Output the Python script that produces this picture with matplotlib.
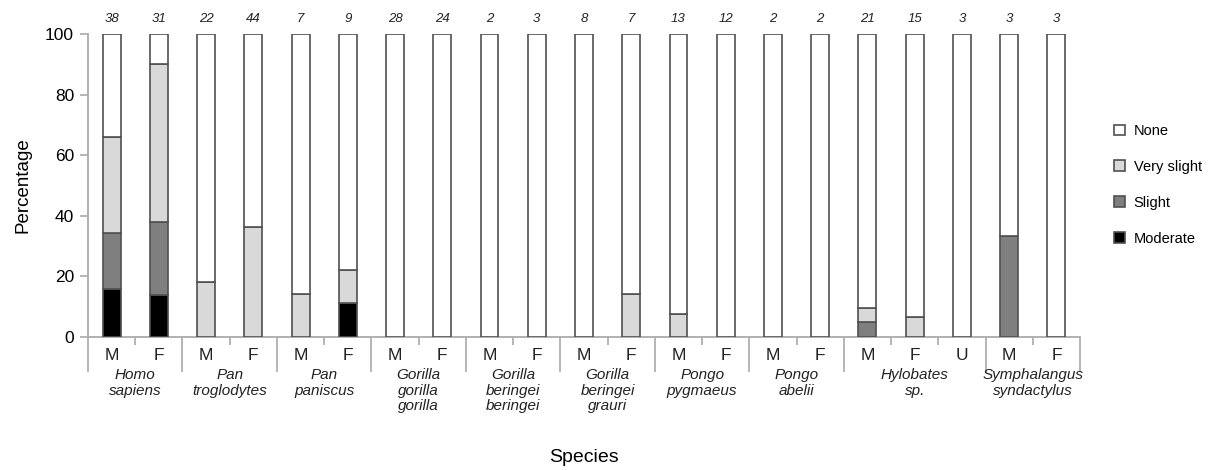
import matplotlib
matplotlib.use("Agg")
import matplotlib.pyplot as plt
import numpy as np
from matplotlib.patches import Patch
import matplotlib.transforms as mtransforms

plt.rcParams['font.family'] = ['Liberation Sans', 'DejaVu Sans']

# ---- data ----
species = ["Homo\nsapiens", "Pan\ntroglodytes", "Pan\npaniscus", "Gorilla\ngorilla\ngorilla",
           "Gorilla\nberingei\nberingei", "Gorilla\nberingei\ngrauri", "Pongo\npygmaeus",
           "Pongo\nabelii", "Hylobates\nsp.", "Symphalangus\nsyndactylus"]
sexes = [["M", "F"], ["M", "F"], ["M", "F"], ["M", "F"], ["M", "F"], ["M", "F"],
         ["M", "F"], ["M", "F"], ["M", "F", "U"], ["M", "F"]]
counts = [38, 31, 22, 44, 7, 9, 28, 24, 2, 3, 8, 7, 13, 12, 2, 2, 21, 15, 3, 3, 3]

moderate    = [15.8, 14.0, 0, 0, 0, 11.1, 0, 0, 0, 0, 0, 0, 0, 0, 0, 0, 0, 0, 0, 0, 0]
slight      = [18.5, 24.0, 0, 0, 0, 0, 0, 0, 0, 0, 0, 0, 0, 0, 0, 0, 4.8, 0, 0, 33.3, 0]
very_slight = [31.8, 52.0, 18.2, 36.4, 14.3, 11.1, 0, 0, 0, 0, 0, 14.3, 7.7, 0, 0, 0, 4.8, 6.7, 0, 0, 0]
none_ = [100 - a - b - c for a, b, c in zip(moderate, slight, very_slight)]

series = [("Moderate", moderate, "#000000"),
          ("Slight", slight, "#7f7f7f"),
          ("Very slight", very_slight, "#d9d9d9"),
          ("None", none_, "#ffffff")]

# ---- figure ----
fig = plt.figure(figsize=(12.14, 4.70), dpi=100)
ax = fig.add_axes([88/1214, 1 - 337/470, (1080 - 88)/1214, (337 - 34)/470])

n = len(counts)
x = np.arange(n)
bottom = np.zeros(n)
edge = "#505050"
for name, vals, col in series:
    v = np.array(vals, dtype=float)
    ax.bar(x, v, width=0.38, bottom=bottom, color=col, edgecolor=edge, linewidth=1.2, zorder=3)
    bottom += v

ax.set_xlim(-0.5, n - 0.5)
ax.set_ylim(0, 100)
ax.set_yticks([0, 20, 40, 60, 80, 100])
ax.tick_params(axis='y', labelsize=12.5, length=6, width=1.3, color="#b0b0b0", pad=4)

for s in ["top", "right"]:
    ax.spines[s].set_visible(False)
for s in ["left", "bottom"]:
    ax.spines[s].set_color("#b0b0b0")
    ax.spines[s].set_linewidth(1.4)

# category axis ticks
group_sizes = [len(s) for s in sexes]
bounds = np.concatenate([[0], np.cumsum(group_sizes)]) - 0.5
inner = []
for start, size in zip(bounds[:-1], group_sizes):
    for k in range(1, size):
        inner.append(start + k)
ax.set_xticks(bounds)
ax.set_xticks(inner, minor=True)
ax.tick_params(axis='x', which='major', length=25, width=1.3, color="#b0b0b0", labelbottom=False)
ax.tick_params(axis='x', which='minor', length=6, width=1.3, color="#b0b0b0", labelbottom=False)

trans = mtransforms.blended_transform_factory(ax.transData, ax.transAxes)
px = 1.0 / (337 - 34)  # one pixel in axes-fraction units (vertical)

# sex labels
i = 0
for g, sx in enumerate(sexes):
    for s in sx:
        ax.text(x[i], -18 * px, s, transform=trans, ha='center', va='center', fontsize=12.5,
                color="#222222")
        i += 1

# species labels
for g, sp in enumerate(species):
    cx = (bounds[g] + bounds[g + 1]) / 2
    ax.text(cx, -31 * px, sp, transform=trans, ha='center', va='top', fontsize=11,
            style='italic', linespacing=1.15, color="#222222")

# counts
for xi, c in zip(x, counts):
    ax.text(xi, 1 + 15 * px, str(c), transform=trans, ha='center', va='center',
            fontsize=9.5, style='italic', color="#222222")

ax.set_ylabel("Percentage", fontsize=13.5, labelpad=10)
fig.text((88 + 1080) / 2 / 1214, 1 - 458 / 470, "Species", ha='center', va='center', fontsize=14)

handles = [Patch(facecolor=col, edgecolor=edge, linewidth=1.2, label=name)
           for name, vals, col in series[::-1]]
fig.legend(handles=handles, loc='upper left', bbox_to_anchor=(1114 / 1214, 1 - 124 / 470),
           frameon=False, fontsize=10.5, handlelength=0.75, handleheight=0.75,
           handletextpad=0.6, labelspacing=1.5, borderpad=0, borderaxespad=0)

fig.savefig("out.png", dpi=100)
